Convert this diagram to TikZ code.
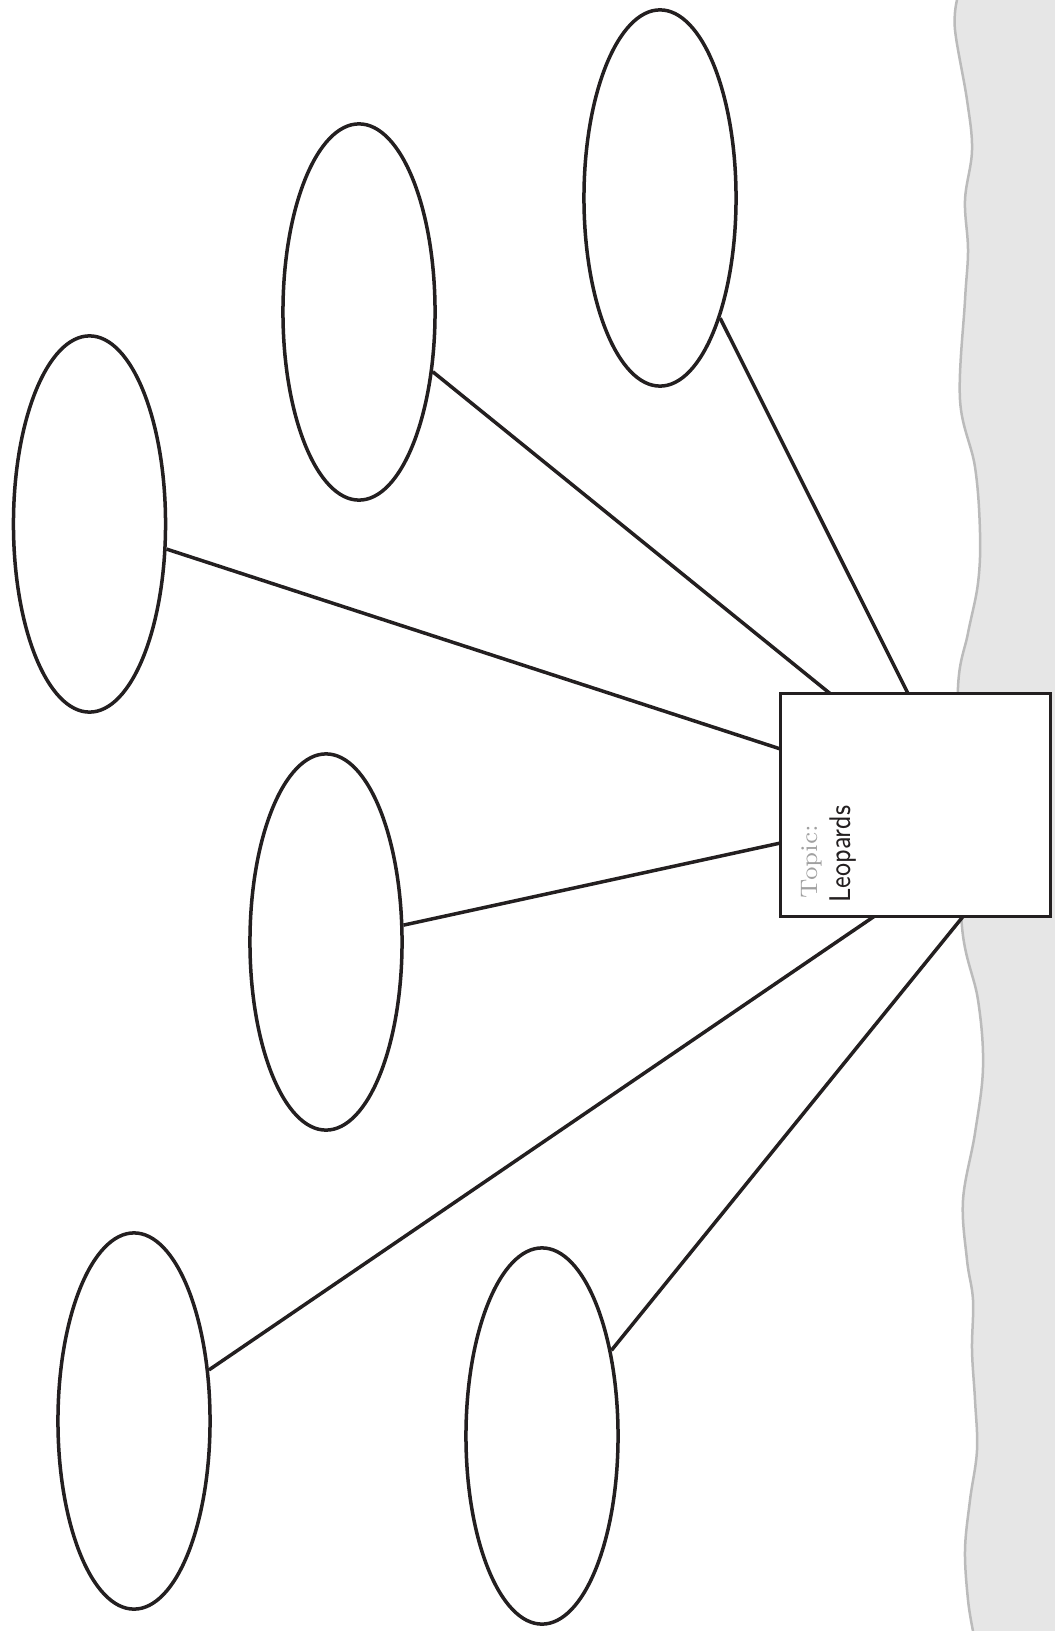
\documentclass[tikz,border=0pt]{standalone}
\usetikzlibrary{shapes.geometric}
\definecolor{bandfill}{HTML}{E6E6E6}
\definecolor{bandedge}{HTML}{BBBBBB}
\definecolor{inkline}{HTML}{231F20}
\definecolor{topicgray}{HTML}{A0A0A0}
\tikzset{
  bubble/.style={ellipse, draw=inkline, line width=0.035cm, minimum width=1.52cm, minimum height=3.76cm, inner sep=0pt, fill=white},
  topicbox/.style={draw=inkline, line width=0.035cm, fill=white, minimum width=2.70cm, minimum height=2.23cm, inner sep=0pt},
  link/.style={draw=inkline, line width=0.035cm}
}
\begin{document}
\begin{tikzpicture}[x=0.01cm, y=-0.01cm]
\useasboundingbox (0,0) rectangle (1055,1631);
% grey band on the right
\path[fill=bandfill] plot[smooth, tension=0.6] coordinates {
 (957,0) (955,30) (967,100) (972,150) (965,200) (968,250) (965,300) (960,400)
 (975,467) (980,533) (978,583) (968,633) (958,687) (960,800) (962,927) (978,1000)
 (983,1067) (975,1133) (963,1200) (967,1260) (973,1300) (972,1350) (975,1400)
 (977,1450) (970,1500) (965,1550) (968,1600) (973,1631)} -- (1055,1631) -- (1055,0) -- cycle;
\draw[bandedge, line width=0.025cm] plot[smooth, tension=0.6] coordinates {
 (957,0) (955,30) (967,100) (972,150) (965,200) (968,250) (965,300) (960,400)
 (975,467) (980,533) (978,583) (968,633) (958,687) (960,800) (962,927) (978,1000)
 (983,1067) (975,1133) (963,1200) (967,1260) (973,1300) (972,1350) (975,1400)
 (977,1450) (970,1500) (965,1550) (968,1600) (973,1631)};
% topic box
\node[topicbox] (box) at (915.5,805) {};
\coordinate (c1) at (908,693.5);
\coordinate (c2) at (830,693.5);
\coordinate (c3) at (780.5,749);
\coordinate (c4) at (780.5,843);
\coordinate (c5) at (874,916.5);
\coordinate (c6) at (963,916.5);
% bubbles
\node[bubble] (e1) at (660,198) {};
\node[bubble] (e2) at (359,312) {};
\node[bubble] (e3) at (89.5,524) {};
\node[bubble] (e4) at (326,942) {};
\node[bubble] (e5) at (134,1421) {};
\node[bubble] (e6) at (542,1436) {};
% connectors
\draw[link] (e1) -- (c1);
\draw[link] (e2) -- (c2);
\draw[link] (e3) -- (c3);
\draw[link] (e4) -- (c4);
\draw[link] (e5) -- (c5);
\draw[link] (e6) -- (c6);
% text
\node[rotate=90, anchor=base west, inner sep=0pt, text=topicgray, font=\fontsize{6.8}{7}\selectfont] (topic) at (817,899) {Topic:};
\node[rotate=90, anchor=base west, inner sep=0pt, text=inkline, font=\sffamily\fontsize{8.5}{9}\selectfont] (name) at (850,903) {\scalebox{0.85}[1]{Leopards}};
\end{tikzpicture}
\end{document}
